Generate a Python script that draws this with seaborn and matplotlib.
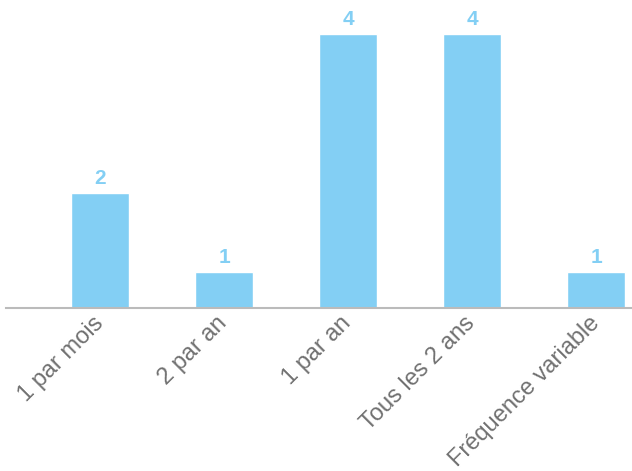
import matplotlib
matplotlib.use("Agg")
import matplotlib.pyplot as plt
import seaborn as sns
import pandas as pd

categories = ["1 par mois", "2 par an", "1 par an", "Tous les 2 ans", "Fréquence variable"]
counts = [2, 1, 4, 4, 1]

BAR_COLOR = "#83CFF4"
TEXT_GRAY = "#707070"

sns.set_theme(style="white")
plt.rcParams["font.family"] = ["Liberation Sans", "DejaVu Sans"]

df = pd.DataFrame({"categorie": categories, "nombre": counts})

fig = plt.figure(figsize=(6.32, 4.71), dpi=100)
ax = fig.add_axes([0.0095, 0.347, 0.9905, 0.653])

sns.barplot(data=df, x="categorie", y="nombre", color=BAR_COLOR,
            saturation=1, width=0.47, ax=ax)

ax.set_xlim(-0.758, 4.29)
ax.set_ylim(0.55, 4.43)

for i, v in enumerate(counts):
    ax.text(i, v + 0.06, str(v), ha="center", va="bottom",
            fontsize=15, fontweight="bold", color=BAR_COLOR)

ax.set_xlabel("")
ax.set_ylabel("")
ax.set_yticks([])
ax.tick_params(axis="x", length=0, pad=9)
for lbl in ax.get_xticklabels():
    lbl.set_rotation(45)
    lbl.set_ha("right")
    lbl.set_va("center")
    lbl.set_rotation_mode("anchor")
    lbl.set_fontsize(17)
    lbl.set_color(TEXT_GRAY)

for side in ["top", "right", "left"]:
    ax.spines[side].set_visible(False)
ax.spines["bottom"].set_color("#BBBBBB")
ax.spines["bottom"].set_linewidth(1.5)

fig.savefig("out.png", dpi=100)
